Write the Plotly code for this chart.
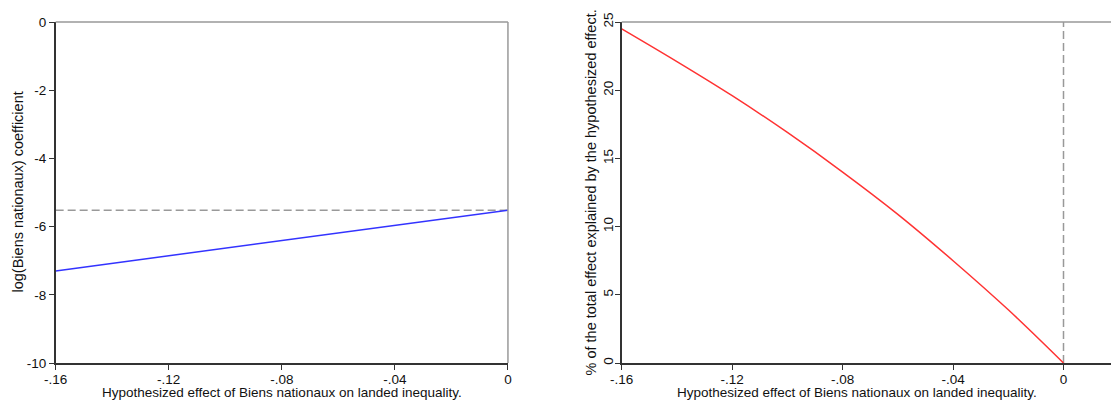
import plotly.graph_objects as go

# Left panel: hypothesized effect vs log(Biens nationaux) coefficient
x_left = [-0.16, -0.12, -0.08, -0.04, 0.0]
coef = [-7.30, -6.85, -6.41, -5.96, -5.52]
baseline_coef = -5.52

# Right panel: % of total effect explained
x_right = [-0.16, -0.14, -0.12, -0.10, -0.08, -0.06, -0.04, -0.02, 0.0]
pct = [24.5, 22.1, 19.6, 16.9, 14.0, 10.9, 7.5, 3.9, 0.0]

x_ticks = [-0.16, -0.12, -0.08, -0.04, 0.0]
x_ticktext = ["-.16", "-.12", "-.08", "-.04", "0"]
yl_ticks = [0, -2, -4, -6, -8, -10]
yr_ticks = [0, 5, 10, 15, 20, 25]

XTITLE = "Hypothesized effect of Biens nationaux on landed inequality."
YL_TITLE = "log(Biens nationaux) coefficient"
YR_TITLE = "% of the total effect explained by the hypothesized effect."

FONT = "Liberation Sans, Arial, sans-serif"
AX = "#333333"
FRAME = "#999999"
TXT = "#111111"

fig = go.Figure()

fig.add_trace(go.Scatter(x=[-0.16, 0.0], y=[baseline_coef, baseline_coef], mode="lines",
                         line=dict(color="#999999", width=1.5, dash="8px,4px"),
                         xaxis="x", yaxis="y", showlegend=False, hoverinfo="skip"))
fig.add_trace(go.Scatter(x=x_left, y=coef, mode="lines",
                         line=dict(color="#3333ff", width=1.5),
                         xaxis="x", yaxis="y", showlegend=False))

fig.add_trace(go.Scatter(x=[0.0, 0.0], y=[0, 25], mode="lines",
                         line=dict(color="#999999", width=1.5, dash="8px,4px"),
                         xaxis="x2", yaxis="y2", showlegend=False, hoverinfo="skip"))
fig.add_trace(go.Scatter(x=x_right, y=pct, mode="lines", line_shape="spline",
                         line=dict(color="#ff3333", width=1.5),
                         xaxis="x2", yaxis="y2", showlegend=False))

common_x = dict(tickvals=x_ticks, ticktext=x_ticktext, ticks="outside", ticklen=5,
                tickcolor=AX, showline=True, linecolor=AX, linewidth=1.5,
                showgrid=False, zeroline=False, automargin=False,
                ticklabelstandoff=-2,
                tickfont=dict(family=FONT, size=13.5, color=TXT))
common_y = dict(ticks="outside", ticklen=5, tickcolor=AX, showline=True, linecolor=AX,
                linewidth=1.5, showgrid=False, zeroline=False, automargin=False,
                tickfont=dict(family=FONT, size=13.5, color=TXT))

fig.update_layout(
    width=1111, height=402,
    paper_bgcolor="white", plot_bgcolor="white",
    margin=dict(l=0, r=0, t=22, b=39),
    xaxis=dict(domain=[0.0501, 0.4572], range=[-0.16, 0.0], anchor="y", **common_x),
    yaxis=dict(domain=[0, 1], range=[-10, 0], anchor="x", tickvals=yl_ticks,
               ticktext=[str(v) for v in yl_ticks], **common_y),
    xaxis2=dict(domain=[0.5596, 1.0], range=[-0.16, 0.0172], anchor="y2", **common_x),
    yaxis2=dict(domain=[0, 1], range=[0, 25], anchor="x2", tickvals=yr_ticks,
                ticktext=[str(v) for v in yr_ticks], tickangle=-90,
                ticklabelstandoff=-3, **common_y),
    shapes=[
        dict(type="line", xref="x domain", yref="y domain", x0=0, x1=1, y0=1, y1=1,
             line=dict(color=FRAME, width=1.5)),
        dict(type="line", xref="x domain", yref="y domain", x0=1, x1=1, y0=0, y1=1,
             line=dict(color=FRAME, width=1.5)),
        dict(type="line", xref="x2 domain", yref="y2 domain", x0=0, x1=1, y0=1, y1=1,
             line=dict(color=FRAME, width=1.5)),
    ],
    annotations=[
        dict(text=XTITLE, xref="paper", yref="paper", x=282 / 1111, y=-0.111,
             xanchor="center", yanchor="bottom", showarrow=False, borderpad=0,
             font=dict(family=FONT, size=13.5, color=TXT)),
        dict(text=XTITLE, xref="paper", yref="paper", x=857 / 1111, y=-0.111,
             xanchor="center", yanchor="bottom", showarrow=False, borderpad=0,
             font=dict(family=FONT, size=13.5, color=TXT)),
        dict(text=YL_TITLE, xref="paper", yref="paper", x=17 / 1111, y=0.5,
             xanchor="center", yanchor="middle", showarrow=False, textangle=-90,
             font=dict(family=FONT, size=14.5, color=TXT)),
        dict(text=YR_TITLE, xref="paper", yref="paper", x=590 / 1111, y=0.5,
             xanchor="center", yanchor="middle", showarrow=False, textangle=-90,
             font=dict(family=FONT, size=14.5, color=TXT)),
    ],
)

fig.write_html("out.html")
